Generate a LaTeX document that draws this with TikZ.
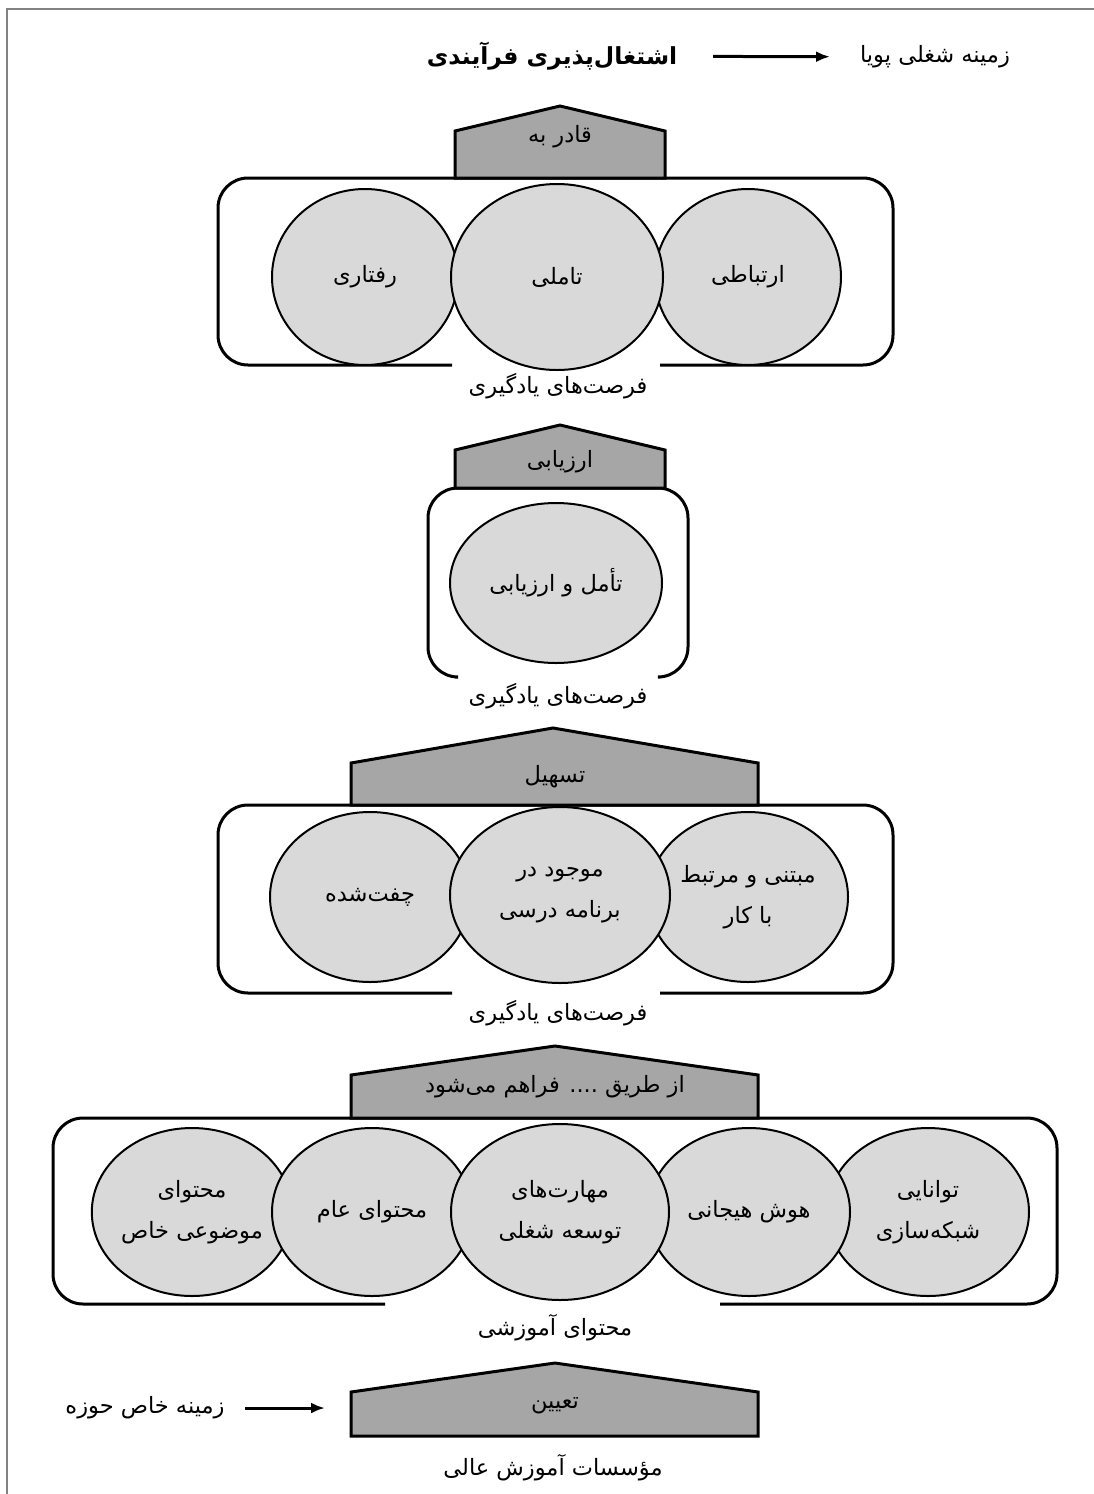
\documentclass[tikz,border=0pt]{standalone}
\usepackage{fontspec}
\newfontfamily\arabicfont[Script=Arabic]{DejaVu Sans}
\TeXXeTstate=1
\usetikzlibrary{arrows.meta,shapes.geometric}
\definecolor{roofgray}{RGB}{166,166,166}
\definecolor{bubblegray}{RGB}{217,217,217}
\definecolor{edgegray}{RGB}{130,130,130}
% one right-to-left line of Persian text
\newcommand{\fatext}[1]{{\arabicfont\beginR #1\endR}}
\begin{document}
\begin{tikzpicture}[x=1pt,y=-1pt,
  txt/.style={font=\fontsize{22.5}{41}\selectfont, inner sep=0pt, align=center},
  bubble/.style={ellipse, draw=black, line width=2pt, fill=bubblegray, inner sep=0pt, txt},
  panel/.style={draw=black, line width=3pt, rounded corners=30pt},
  roof/.style={draw=black, line width=3pt, fill=roofgray, line join=miter},
  arrowline/.style={line width=3pt, -{Latex[length=14pt,width=11pt]}},
]
\useasboundingbox (0,0) rectangle (1094,1494);
\fill[white] (0,0) rectangle (1094,1494);
% page edge
\draw[edgegray, line width=2pt] (1094,9) -- (7,9) -- (7,1494);

% heading
\node[txt, font=\fontsize{23.5}{28}\selectfont\bfseries] (title) at (552,56) {\fatext{اشتغال^^^^200cپذیری فرآیندی}};
\node[txt] (ctxTop) at (935,57) {\fatext{زمینه شغلی پویا}};
\draw[arrowline, shorten <=161pt, shorten >=105pt] (title.center) -- (ctxTop.center);

% level 1
\draw[panel] (452,365) -- (218,365) -- (218,178) -- (893,178) -- (893,365) -- (660,365);
\draw[roof] (455,178) -- (455,131) -- (560,106) -- (665,131) -- (665,178) -- cycle;
\node[txt] (qader) at (560,137) {\fatext{قادر به}};
\node[bubble, minimum width=186pt, minimum height=176pt] (e11) at (365,277) {\fatext{رفتاری}};
\node[bubble, minimum width=186pt, minimum height=176pt] (e13) at (748,277) {\fatext{ارتباطی}};
\node[bubble, minimum width=212pt, minimum height=186pt] (e12) at (557,277) {\fatext{تاملی}};
\node[txt] (lab1) at (558,386) {\fatext{فرصت^^^^200cهای یادگیری}};

% level 2
\draw[panel] (455,677) -- (428,677) -- (428,488) -- (688,488) -- (688,677) -- (660,677);
\draw[roof] (455,488) -- (455,450) -- (560,425) -- (665,450) -- (665,488) -- cycle;
\node[txt] (arzyabi) at (560,462) {\fatext{ارزیابی}};
\node[bubble, minimum width=212pt, minimum height=160pt] (e21) at (556,583) {\fatext{تأمل و ارزیابی}};
\node[txt] (lab2) at (558,696) {\fatext{فرصت^^^^200cهای یادگیری}};

% level 3
\draw[panel] (452,993) -- (218,993) -- (218,805) -- (893,805) -- (893,993) -- (660,993);
\draw[roof] (351,805) -- (351,763) -- (553,728) -- (758,763) -- (758,805) -- cycle;
\node[txt] (tashil) at (555,777) {\fatext{تسهیل}};
\node[bubble, minimum width=200pt, minimum height=170pt] (e31) at (370,897) {\fatext{چفت^^^^200cشده}};
\node[bubble, minimum width=200pt, minimum height=170pt] (e33) at (748,897) {\fatext{مبتنی و مرتبط}\\\fatext{با کار}};
\node[bubble, minimum width=220pt, minimum height=176pt] (e32) at (560,895) {\fatext{موجود در}\\\fatext{برنامه درسی}};
\node[txt] (lab3) at (558,1013) {\fatext{فرصت^^^^200cهای یادگیری}};

% level 4
\draw[panel] (385,1304) -- (53,1304) -- (53,1118) -- (1057,1118) -- (1057,1304) -- (720,1304);
\draw[roof] (351,1118) -- (351,1075) -- (555,1046) -- (758,1075) -- (758,1118) -- cycle;
\node[txt] (faraham) at (555,1087) {\fatext{از طریق .... فراهم می^^^^200cشود}};
\node[bubble, minimum width=200pt, minimum height=168pt] (e41) at (192,1212) {\fatext{محتوای}\\\fatext{موضوعی خاص}};
\node[bubble, minimum width=202pt, minimum height=168pt] (e45) at (928,1212) {\fatext{توانایی}\\\fatext{شبکه^^^^200cسازی}};
\node[bubble, minimum width=200pt, minimum height=168pt] (e42) at (372,1212) {\fatext{محتوای عام}};
\node[bubble, minimum width=202pt, minimum height=168pt] (e44) at (749,1212) {\fatext{هوش هیجانی}};
\node[bubble, minimum width=218pt, minimum height=176pt] (e43) at (560,1212) {\fatext{مهارت^^^^200cهای}\\\fatext{توسعه شغلی}};
\node[txt] (lab4) at (555,1328) {\fatext{محتوای آموزشی}};

% level 5
\draw[roof] (351,1436) -- (351,1392) -- (555,1363) -- (758,1392) -- (758,1436) -- cycle;
\node[txt] (tayin) at (555,1406) {\fatext{تعیین}};
\node[txt] (ctxBot) at (145,1408) {\fatext{زمینه خاص حوزه}};
\draw[arrowline, shorten <=100pt, shorten >=230pt] (ctxBot.center) -- (tayin.center |- ctxBot.center);
\node[txt] (lab5) at (553,1468) {\fatext{مؤسسات آموزش عالی}};
\end{tikzpicture}
\end{document}
